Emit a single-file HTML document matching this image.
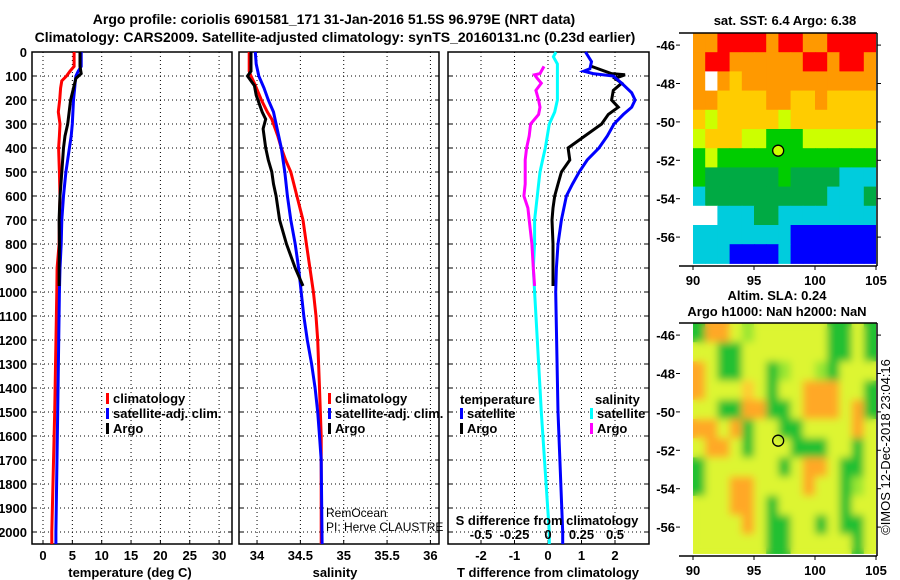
<!DOCTYPE html>
<html><head><meta charset="utf-8"><style>
html,body{margin:0;padding:0;background:#fff}
svg{display:block}
text{font-family:"Liberation Sans",sans-serif;fill:#000}
.b{font-weight:bold;font-size:13px}
.t{font-weight:bold;font-size:14px}
</style></head><body>
<svg id="fig" width="900" height="580" viewBox="0 0 900 580" xmlns="http://www.w3.org/2000/svg">
<defs>
<filter id="blur" x="0" y="0" width="1" height="1"><feGaussianBlur stdDeviation="4" edgeMode="duplicate"/></filter>
<clipPath id="clipSla"><rect x="693" y="323" width="183" height="233"/></clipPath>
<clipPath id="clipSst"><rect x="693" y="33" width="183" height="233"/></clipPath>
</defs>
<text class="t" x="334" y="24" text-anchor="middle">Argo profile: coriolis 6901581_171 31-Jan-2016 51.5S 96.979E (NRT data)</text>
<text class="t" x="335" y="42" text-anchor="middle">Climatology: CARS2009. Satellite-adjusted climatology: synTS_20160131.nc (0.23d earlier)</text>
<g id="layer"></g>
</svg>
<script>
// depth grids (m)
const tDepth = [0,60,80,100,120,150,200,250,300,350,400,500,600,700,800,900,1000,1500,2000,2050];
const tClim  = [5.3,5.3,4.6,4.0,3.2,3.0,2.85,2.6,2.9,2.8,2.65,2.8,2.9,2.8,2.75,2.4,2.35,2.0,1.5,1.5];
const tSat   = [6.5,6.5,6.0,5.6,5.5,5.4,5.2,5.1,5.0,4.8,4.5,3.9,3.5,3.2,3.1,2.9,2.8,2.5,2.2,2.2];
const argoDepth = [0,60,90,110,200,300,350,400,500,600,700,800,900,975];
const tArgo  = [6.3,6.3,6.5,5.6,4.7,4.2,3.75,3.5,3.2,2.9,2.75,2.8,2.75,2.75];

const sDepth = [0,80,100,130,200,250,280,350,400,450,500,600,700,800,900,1000,1100,1200,1400,1600,2050];
const sClim  = [33.91,33.91,33.93,33.97,34.05,34.12,34.17,34.24,34.28,34.33,34.39,34.46,34.53,34.57,34.61,34.65,34.68,34.70,34.72,34.74,34.74];
const sDepth2 = [0,50,100,150,200,250,300,350,400,500,600,700,800,900,1000,1100,1200,1300,1400,1500,1600,1700,2050];
const sSat   = [33.98,33.99,34.02,34.08,34.13,34.19,34.22,34.25,34.28,34.32,34.35,34.39,34.44,34.48,34.51,34.54,34.58,34.63,34.67,34.70,34.72,34.74,34.75];
const sArgoDepth = [0,80,100,140,180,200,250,280,320,400,450,500,550,600,700,800,900,975];
const sArgo  = [33.93,33.93,33.89,33.97,33.99,34.01,34.06,34.10,34.07,34.10,34.13,34.17,34.19,34.22,34.26,34.34,34.44,34.53];

const dDepth = [0,40,70,80,90,100,130,170,200,230,260,300,350,400,450,500,550,600,700,800,900,1000,1500,2000,2050];
const dTSat  = [1.12,1.3,1.25,1.07,1.35,1.95,2.2,2.5,2.6,2.5,2.25,1.97,1.77,1.52,1.17,0.93,0.73,0.55,0.4,0.3,0.25,0.23,0.3,0.44,0.44];
const dArgoDepth = [60,90,95,110,130,160,200,230,260,300,350,400,450,500,550,600,650,700,800,900,975];
const dTArgo = [1.3,1.9,2.3,2.0,2.2,1.95,1.9,2.1,1.8,1.6,1.1,0.6,0.65,0.4,0.3,0.2,0.15,0.12,0.15,0.15,0.15];
const dSArgo = [-0.03,-0.06,-0.1,-0.08,-0.05,-0.09,-0.07,-0.06,-0.07,-0.13,-0.14,-0.16,-0.17,-0.17,-0.17,-0.18,-0.15,-0.14,-0.12,-0.11,-0.1];
const dSSatDepth = [0,20,50,100,200,250,300,350,400,450,500,550,600,700,800,900,1000,1400,1500,2000,2050];
const dSSat  = [0.06,0.04,0.07,0.07,0.07,0.05,0.01,-0.005,-0.02,-0.04,-0.06,-0.07,-0.08,-0.1,-0.1,-0.11,-0.1,-0.06,-0.05,0.01,0.01];

const depthTicks = [0,100,200,300,400,500,600,700,800,900,1000,1100,1200,1300,1400,1500,1600,1700,1800,1900,2000];
const tTicks = [0,5,10,15,20,25,30];
const sTicks = [34,34.5,35,35.5,36];
const dTTicks = [-2,-1,0,1,2];
const dSTicks = [-0.5,-0.25,0,0.25,0.5];
const dSTickLabels = ["-0.5","-0.25","0","0.25","0.5"];

// SST map: 1-degree cells, lon 90..104, rows from lat -45.4 downward
const sstRows = [
"OORRRRORROORRRR",
"ORROOOOOORRORRO",
"OWOYOOOOOOOOOOO",
"OOYYYYOOYYOYYYY",
"YLYYYYYLYYYYYYY",
"LYYYLLGGGLLLLLL",
"GLGGGGGGGGGGGGG",
"GDDDDDDGDDDDCCC",
"CDDDDDDDDDDCCCD",
"WWCCCDDCCCCCCCC",
"CCCCCCCCBBBBBBB",
"CCCBBBBCBBBBBBB"];
const sstColors = {R:"#ff0000",O:"#ff9900",Y:"#ffcc00",L:"#ccff00",G:"#00cc00",D:"#00aa44",C:"#00ccdd",B:"#0000ff",W:"#ffffff"};
const slaRows = [
"GOOYgYYYYYYGGYG",
"YYGGYYYYYYYGGYG",
"OYGGYYGgYYgGYYY",
"OYYYoYGYYOOOYYG",
"YYGGOOGGYOOOYOG",
"OOYOGYYGGYYYYOY",
"YOOYGYYYGGGYYGY",
"GYYYYYYGYOOYGGY",
"GYYOOYYYYOYYGgY",
"YYYOOYGYYYYYGYY",
"YYYYOYGGYYGYGGY",
"YYYYYYGGYYYYYGY"];
const slaColors = {Y:"#ddf530",g:"#99e630",G:"#22c030",O:"#ffa828",o:"#ffcc30"};
const argoLon = 96.98, argoLat = -51.5;
const lonTicks = [90,95,100,105];
const latTicks = [-46,-48,-50,-52,-54,-56];

const NS="http://www.w3.org/2000/svg";
const layer=document.getElementById('layer');
function mk(tag,attrs,parent){const e=document.createElementNS(NS,tag);for(const k in attrs)e.setAttribute(k,attrs[k]);(parent||layer).appendChild(e);return e;}
function txt(s,x,y,cls,anchor,parent){const e=mk('text',{x:x,y:y,'text-anchor':anchor||'middle'},parent);if(cls)e.setAttribute('class',cls);e.textContent=s;return e;}

const Y0=52,Y1=544,DMAX=2050;
const yD=d=>Y0+d/DMAX*(Y1-Y0);
function xs(x0,x1,v0,v1){return v=>x0+(v-v0)/(v1-v0)*(x1-x0);}
const xT=xs(32,232,-1.874,32.2);
const xS=xs(239,439,33.792,36.099);
const xDT=xs(448,649,-2.985,3.015);
const xDS=v=>548+v*134;

function panel(name,x0,x1,vt,xf){
  const g=mk('g',{});
  
  
  depthTicks.forEach(d=>{
    const y=yD(d);
    if(d>0){const l=mk('line',{x1:x0,x2:x1,y1:y,y2:y,stroke:'#000','stroke-width':1,'stroke-dasharray':'1,3'},g);
    }
    mk('line',{x1:x0,x2:x0+4,y1:y,y2:y,stroke:'#000'},g);
    mk('line',{x1:x1-4,x2:x1,y1:y,y2:y,stroke:'#000'},g);
  });
  vt.forEach(v=>{const x=xf(v);
    const l=mk('line',{x1:x,x2:x,y1:Y0,y2:Y1,stroke:'#000','stroke-width':1,'stroke-dasharray':'1,3'},g);
    
    mk('line',{x1:x,x2:x,y1:Y1,y2:Y1-4,stroke:'#000'},g);});
  const r=mk('rect',{x:x0,y:Y0,width:x1-x0,height:Y1-Y0,fill:'none',stroke:'#000','stroke-width':1.5},g);
  
  return g;
}
function line(name,depths,vals,xf,color,g){
  const pts=depths.map((d,i)=>xf(vals[i]).toFixed(1)+','+yD(d).toFixed(1)).join(' ');
  const p=mk('polyline',{points:pts,fill:'none',stroke:color,'stroke-width':3,'stroke-linejoin':'miter'},g);
  
  
}
function legend(items,x,y,g){
  items.forEach((it,i)=>{
    const gg=mk('g',{},g);
    
    
    mk('rect',{x:x,y:y+i*15-10,width:3,height:11,fill:it[1]},gg);
    txt(it[0],x+7,y+i*15,'b','start',gg);
  });
}

// Panel 1: temperature
const p1=panel('temperature-panel',32,232,tTicks,xT);
depthTicks.forEach(d=>{const t=txt(String(d),27,yD(d)+5,'b','end',p1);
  });
tTicks.forEach(v=>{const t=txt(String(v),xT(v),560,'b','middle',p1);
  });
line('temperature-climatology-line',tDepth,tClim,xT,'#ff0000',p1);
line('temperature-satellite-line',tDepth,tSat,xT,'#0000ff',p1);
line('temperature-argo-line',argoDepth,tArgo,xT,'#000000',p1);
legend([['climatology','#ff0000'],['satellite-adj. clim.','#0000ff'],['Argo','#000']],106,403,p1);
const xt1=txt('temperature (deg C)',130,577,'b','middle',p1);


// Panel 2: salinity
const p2=panel('salinity-panel',239,439,sTicks,xS);
sTicks.forEach(v=>{const t=txt(String(v),xS(v),560,'b','middle',p2);
  });
line('salinity-climatology-line',sDepth,sClim,xS,'#ff0000',p2);
line('salinity-satellite-line',sDepth2,sSat,xS,'#0000ff',p2);
line('salinity-argo-line',sArgoDepth,sArgo,xS,'#000000',p2);
legend([['climatology','#ff0000'],['satellite-adj. clim.','#0000ff'],['Argo','#000']],328,403,p2);
const c1=txt('RemOcean',326,517,null,'start',p2);c1.setAttribute('font-size','12');

const c2=txt('PI: Herve CLAUSTRE',326,531,null,'start',p2);c2.setAttribute('font-size','12');

const xt2=txt('salinity',335,577,'b','middle',p2);


// Panel 3: differences
const p3=panel('difference-panel',448,649,dTTicks,xDT);
dTTicks.forEach(v=>{const t=txt(String(v),xDT(v),560,'b','middle',p3);
  });
line('s-difference-satellite-line',dSSatDepth,dSSat,xDS,'#00ffff',p3);
line('s-difference-argo-line',dArgoDepth,dSArgo,xDS,'#ff00ff',p3);
line('t-difference-argo-line',dArgoDepth,dTArgo,xDT,'#000000',p3);
line('t-difference-satellite-line',dDepth,dTSat,xDT,'#0000ff',p3);
const lg1=txt('temperature',460,404,'b','start',p3);
legend([['satellite','#0000ff'],['Argo','#000']],460,418,p3);
const lg2=txt('salinity',595,404,'b','start',p3);
legend([['satellite','#00ffff'],['Argo','#ff00ff']],590,418,p3);
const sdt=txt('S difference from climatology',547,525,'b','middle',p3);

dSTicks.forEach((v,i)=>{const t=txt(dSTickLabels[i],xDS(v),539,'b','middle',p3);
  });
const xt3=txt('T difference from climatology',548,577,'b','middle',p3);


// Maps
const MX0=693,MX1=876,LON0=90,LON1=105,LATTOP=-45.37,DEGY=19.2;
const xLon=l=>MX0+(l-LON0)/(LON1-LON0)*(MX1-MX0);
function mapFrame(g,top){
  const bot=top+233;
  mk('line',{x1:679,x2:877,y1:top,y2:top,stroke:'#000','stroke-width':1.5},g);
  mk('line',{x1:679,x2:877,y1:bot,y2:bot,stroke:'#000','stroke-width':1.5},g);
  mk('line',{x1:877,x2:877,y1:top,y2:bot,stroke:'#000','stroke-width':1.5},g);
  lonTicks.forEach(l=>{const x=xLon(l);mk('line',{x1:x,x2:x,y1:bot,y2:bot+4,stroke:'#000'},g);
    const t=txt(String(l),x,bot+19,'b','middle',g);});
  latTicks.forEach(l=>{const y=top+(LATTOP-l)*DEGY;
    mk('line',{x1:877,x2:881,y1:y,y2:y,stroke:'#000'},g);
    mk('line',{x1:676,x2:680,y1:y,y2:y,stroke:'#000'},g);
    const t=txt(String(l),675,y+5,'b','end',g);});
}
function cells(g,rows,colors,top,clip){
  const cg=mk('g',{'clip-path':clip},g);
  rows.forEach((row,r)=>{[...row].forEach((ch,c)=>{
    const x=xLon(LON0+c),y=top+r*DEGY;
    const e=mk('rect',{x:x,y:y,width:(MX1-MX0)/15+0.5,height:DEGY+0.5,fill:colors[ch]},cg);
    
  });});
  return cg;
}
const m1=mk('g',{});
cells(m1,sstRows,sstColors,33,'url(#clipSst)');
const mk1=mk('circle',{cx:xLon(argoLon),cy:33+(LATTOP-argoLat)*DEGY,r:5.5,fill:'#ccff00',stroke:'#000','stroke-width':1.3},m1);

mapFrame(m1,33);
const st=txt('sat. SST: 6.4 Argo: 6.38',785,25,'b','middle',m1);

const m2=mk('g',{});
cells(m2,slaRows,slaColors,323,'url(#clipSla)');
const bl=cells(m2,slaRows,slaColors,323,'url(#clipSla)');
bl.setAttribute('filter','url(#blur)');
const mk2=mk('circle',{cx:xLon(argoLon),cy:323+(LATTOP-argoLat)*DEGY,r:5.5,fill:'none',stroke:'#000','stroke-width':1.3},m2);

mapFrame(m2,323);
const at1=txt('Altim. SLA: 0.24',777,300,'b','middle',m2);
const at2=txt('Argo h1000: NaN h2000: NaN',777,316,'b','middle',m2);
const im=txt('©IMOS 12-Dec-2018 23:04:16',0,0,null,'middle',m2);
im.setAttribute('transform','translate(890,447) rotate(-90)');im.setAttribute('font-size','13');

</script>
</body></html>
